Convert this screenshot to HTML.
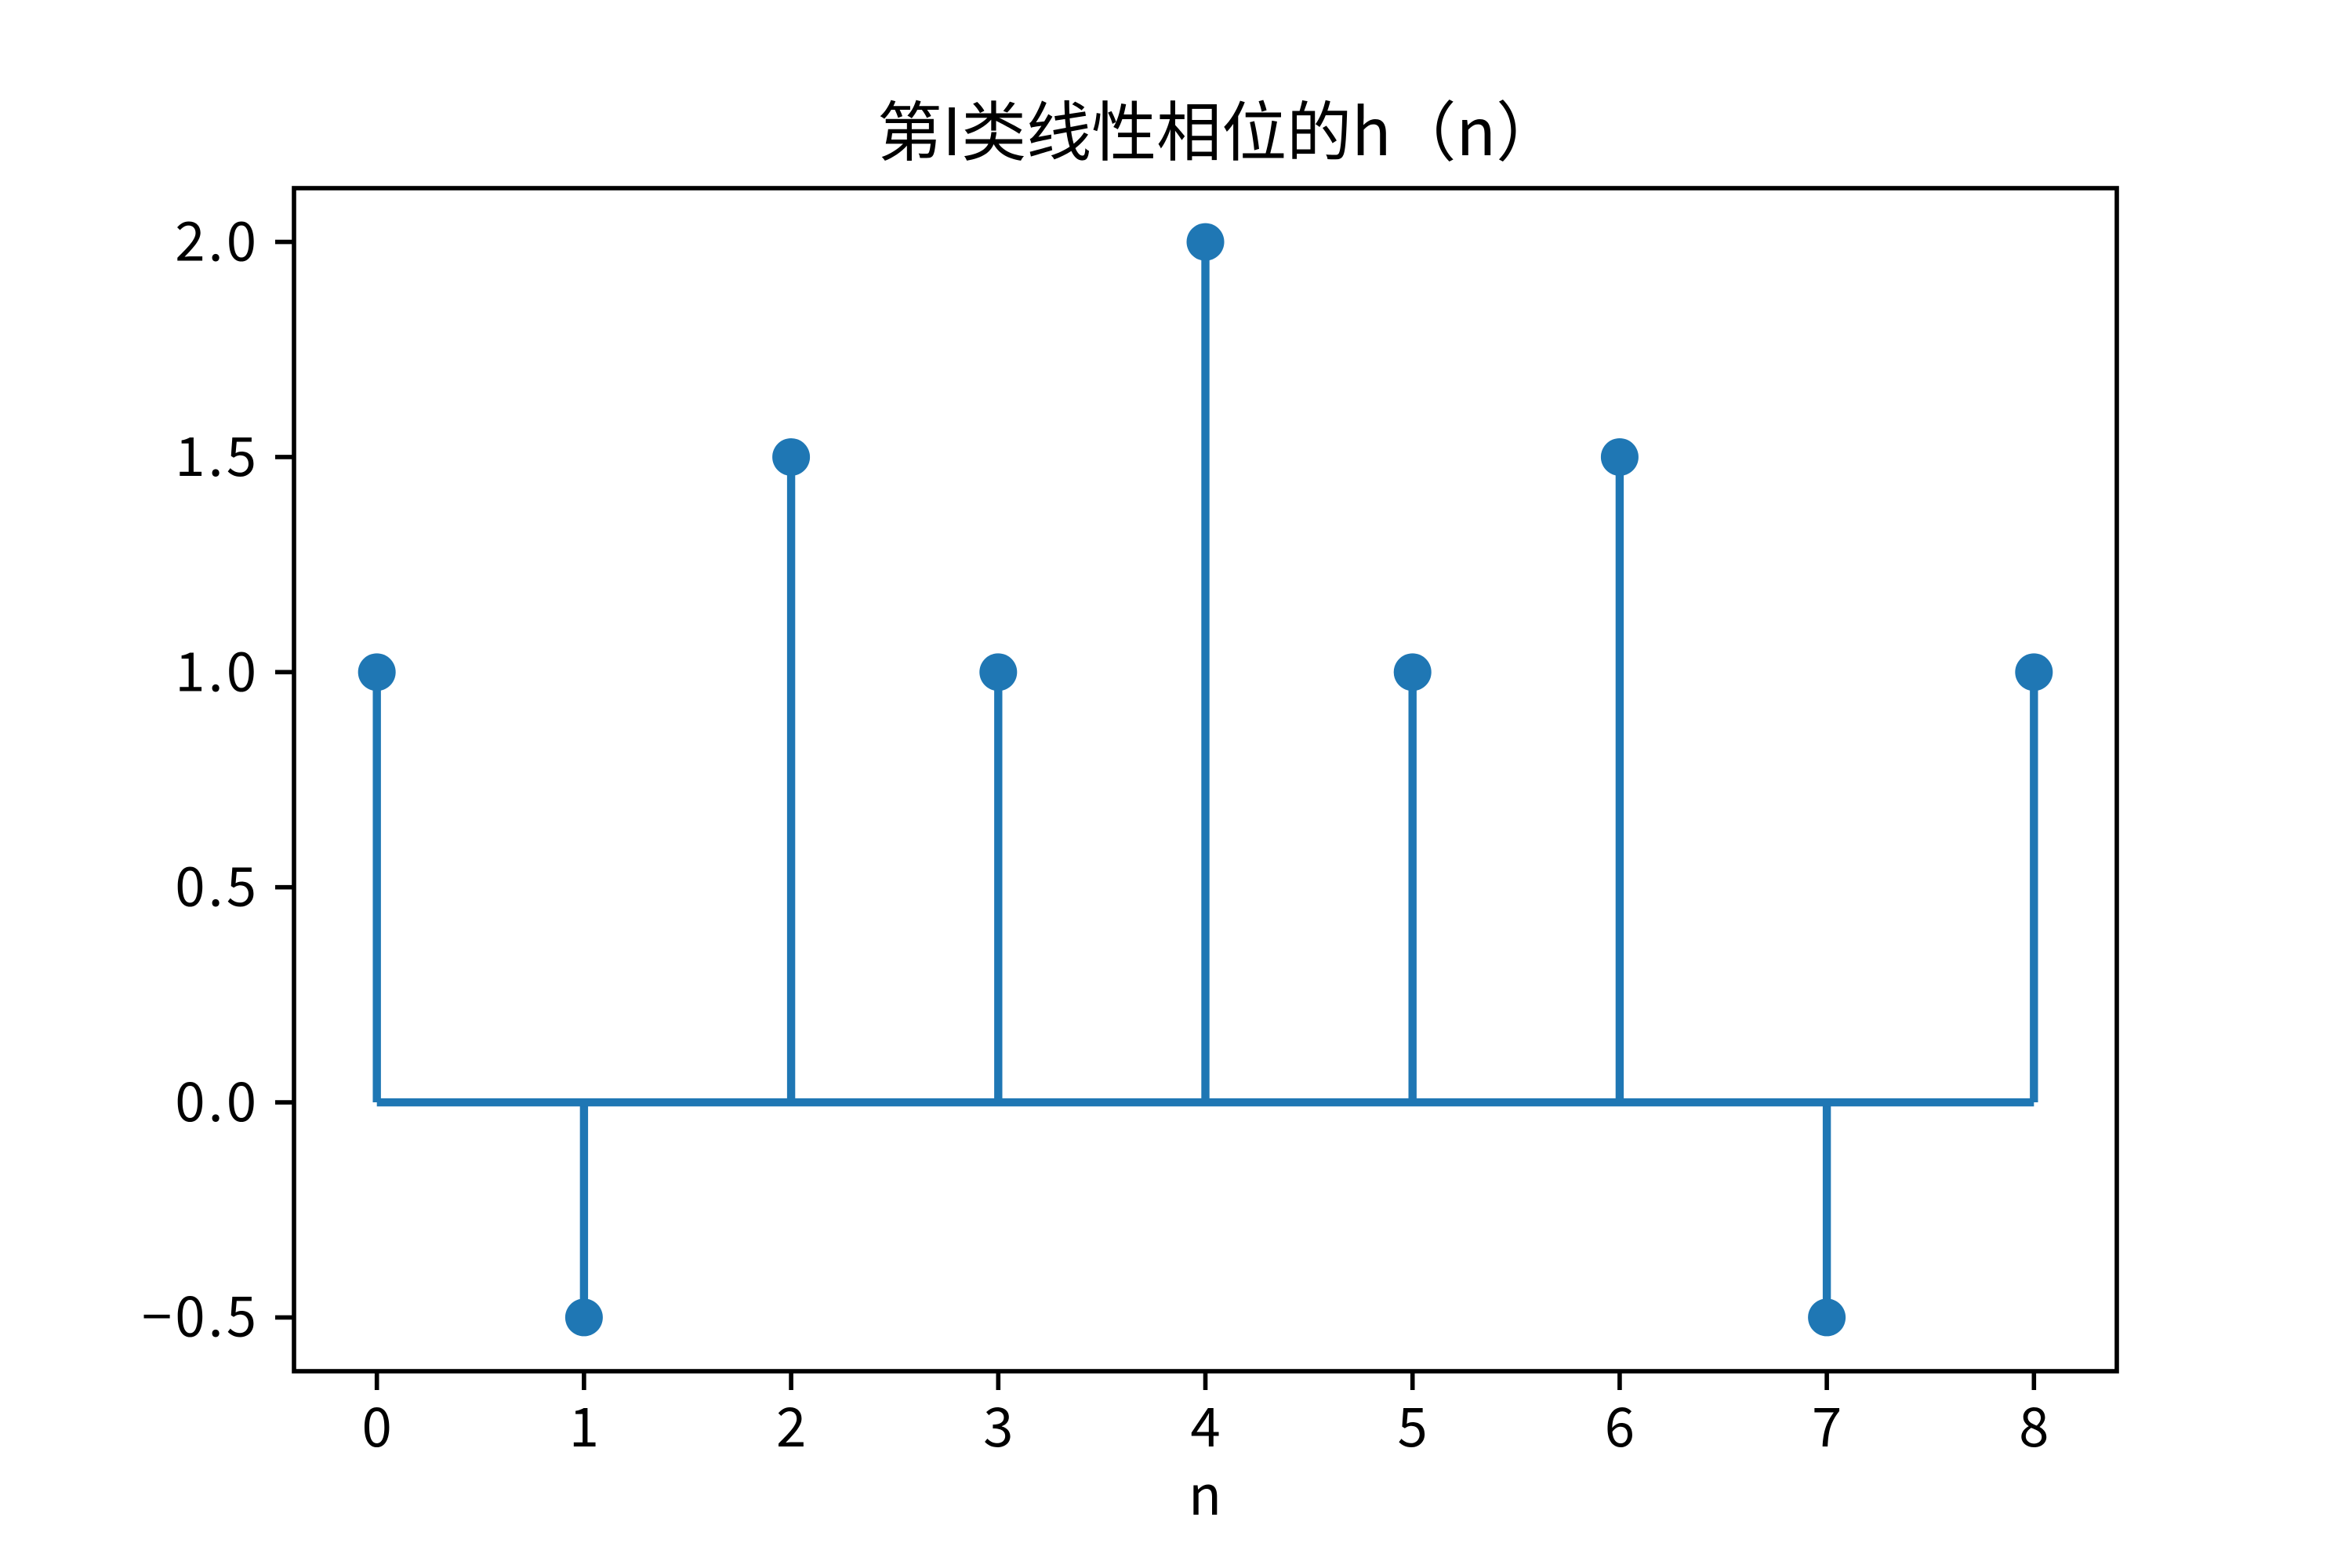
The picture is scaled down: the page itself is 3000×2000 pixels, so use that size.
<!DOCTYPE html>
<html><head><meta charset="utf-8"><style>
html,body{margin:0;padding:0;background:#fff}
svg{display:block}
text{font-family:"WenQuanYi Zen Hei","Noto Sans CJK SC","Liberation Sans",sans-serif;fill:#000}
</style></head><body>
<svg id="chart" width="3000" height="2000" viewBox="0 0 3000 2000" xmlns="http://www.w3.org/2000/svg">
<rect width="3000" height="2000" fill="#fff"/>
<text x="1555" y="198" font-size="83" text-anchor="middle">第I类线性相位的h（n）</text>
<g id="marks"></g>
<rect x="375" y="240" width="2325" height="1509" fill="none" stroke="#000" stroke-width="5.6"/>
<g id="ticks"></g>
<text x="1537" y="1932" font-size="69" text-anchor="middle">n</text>
</svg>
<script>
const categories = [0,1,2,3,4,5,6,7,8];
const values = [1,-0.5,1.5,1,2,1,1.5,-0.5,1];
const yTicks = [-0.5,0,0.5,1,1.5,2];
const yTickLabels = ["−0.5","0.0","0.5","1.0","1.5","2.0"];
const xTicks = [0,1,2,3,4,5,6,7,8];

const L=375,R=2700,T=240,B=1749;
const xMin=-0.4,xMax=8.4,yMin=-0.625,yMax=2.125;
const sx=v=>L+(v-xMin)/(xMax-xMin)*(R-L);
const sy=v=>B-(v-yMin)/(yMax-yMin)*(B-T);
const NS="http://www.w3.org/2000/svg";
const marks=document.getElementById('marks');
const ticks=document.getElementById('ticks');
const C="#1f77b4";
function mk(tag,attrs){const e=document.createElementNS(NS,tag);for(const k in attrs)e.setAttribute(k,attrs[k]);return e;}

categories.forEach((c,i)=>{
  const s=mk('line',{x1:sx(c),x2:sx(c),y1:sy(0),y2:sy(values[i]),stroke:C,'stroke-width':10.4});
  
  
  marks.appendChild(s);
});
const base=mk('line',{x1:sx(categories[0]),x2:sx(categories[categories.length-1]),y1:sy(0),y2:sy(0),stroke:C,'stroke-width':10.4});


marks.appendChild(base);
categories.forEach((c,i)=>{
  const m=mk('circle',{cx:sx(c),cy:sy(values[i]),r:24,fill:C});
  
  
  marks.appendChild(m);
});
yTicks.forEach((v,i)=>{
  const t=mk('line',{x1:L-24,x2:L,y1:sy(v),y2:sy(v),stroke:'#000','stroke-width':5.6});
  
  
  ticks.appendChild(t);
  const tx=mk('text',{x:L-44,y:sy(v)+24,'font-size':69,'text-anchor':'end','letter-spacing':4});
  tx.textContent=yTickLabels[i];
  
  
  ticks.appendChild(tx);
});
xTicks.forEach(v=>{
  const t=mk('line',{x1:sx(v),x2:sx(v),y1:B,y2:B+24,stroke:'#000','stroke-width':5.6});
  
  
  ticks.appendChild(t);
  const tx=mk('text',{x:sx(v),y:1845,'font-size':69,'text-anchor':'middle'});
  tx.textContent=String(v);
  
  
  ticks.appendChild(tx);
});
</script>
</body></html>
